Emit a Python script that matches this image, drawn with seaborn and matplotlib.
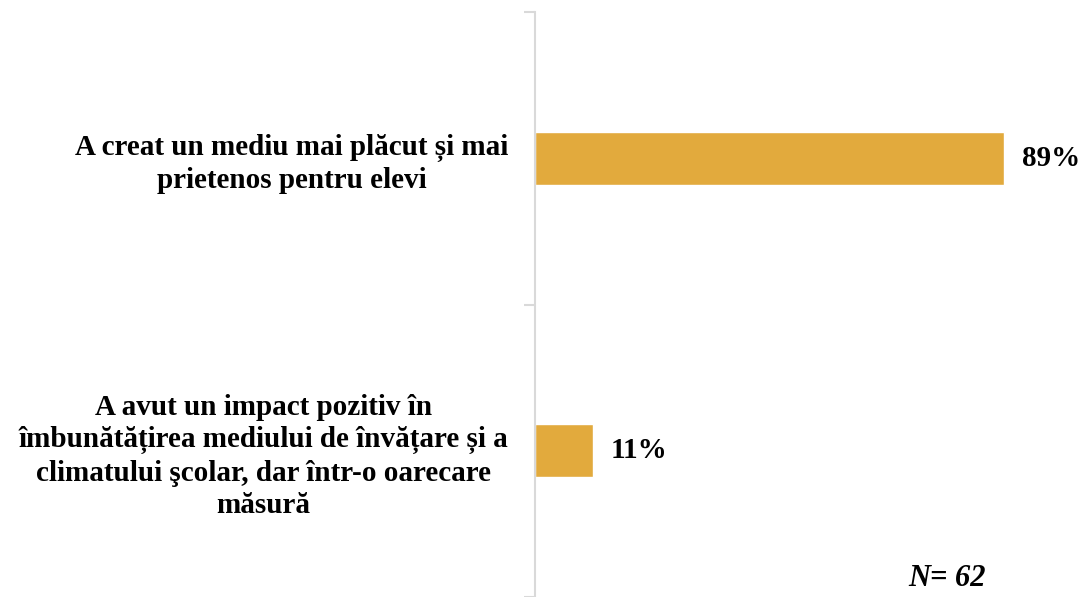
import pandas as pd
import seaborn as sns
import matplotlib.pyplot as plt

categories = [
    "A creat un mediu mai plăcut și mai\nprietenos pentru elevi",
    "A avut un impact pozitiv în\nîmbunătățirea mediului de învățare și a\nclimatului şcolar, dar într-o oarecare\nmăsură",
]
values = [89, 11]
value_labels = ["89%", "11%"]
note = "N= 62"

df = pd.DataFrame({"cat": categories, "val": values})

sns.set_style("white")
plt.rcParams["font.family"] = ["Liberation Serif", "DejaVu Serif"]
plt.rcParams["text.color"] = "black"
plt.rcParams["ytick.color"] = "black"

fig = plt.figure(figsize=(10.82, 5.97), dpi=100)
ax = fig.add_axes([535 / 1082, 0.0, 527 / 1082, 585 / 597])

sns.barplot(data=df, y="cat", x="val", color="#E2AA3D", width=0.18,
            orient="h", ax=ax, saturation=1)

ax.set_xlim(0, 100)
ax.set_ylim(1.5, -0.5)
ax.set_xlabel("")
ax.set_ylabel("")
ax.set_xticks([])

for s in ["top", "right", "bottom"]:
    ax.spines[s].set_visible(False)
ax.spines["left"].set_color("#d9d9d9")
ax.spines["left"].set_linewidth(1.5)

ax.set_yticks([0, 1])
ax.set_yticklabels(categories, fontsize=21, fontweight="bold", ha="right",
                   multialignment="center", linespacing=1.26, color="black")
ax.tick_params(axis="y", which="major", length=0, pad=19)
ax.set_yticks([-0.5, 0.5, 1.5], minor=True)
ax.tick_params(axis="y", which="minor", left=True, length=8, width=1.5,
               color="#d9d9d9")

for i, (v, lab) in enumerate(zip(values, value_labels)):
    ax.annotate(lab, (v, i), xytext=(13, 0), textcoords="offset points",
                va="center", ha="left", fontsize=21, fontweight="bold",
                color="black", annotation_clip=False)

fig.text(947 / 1082, 1 - 578 / 597, note, ha="center", va="center",
         fontsize=22, fontweight="bold", style="italic", color="black")

fig.savefig("out.png", dpi=100)
